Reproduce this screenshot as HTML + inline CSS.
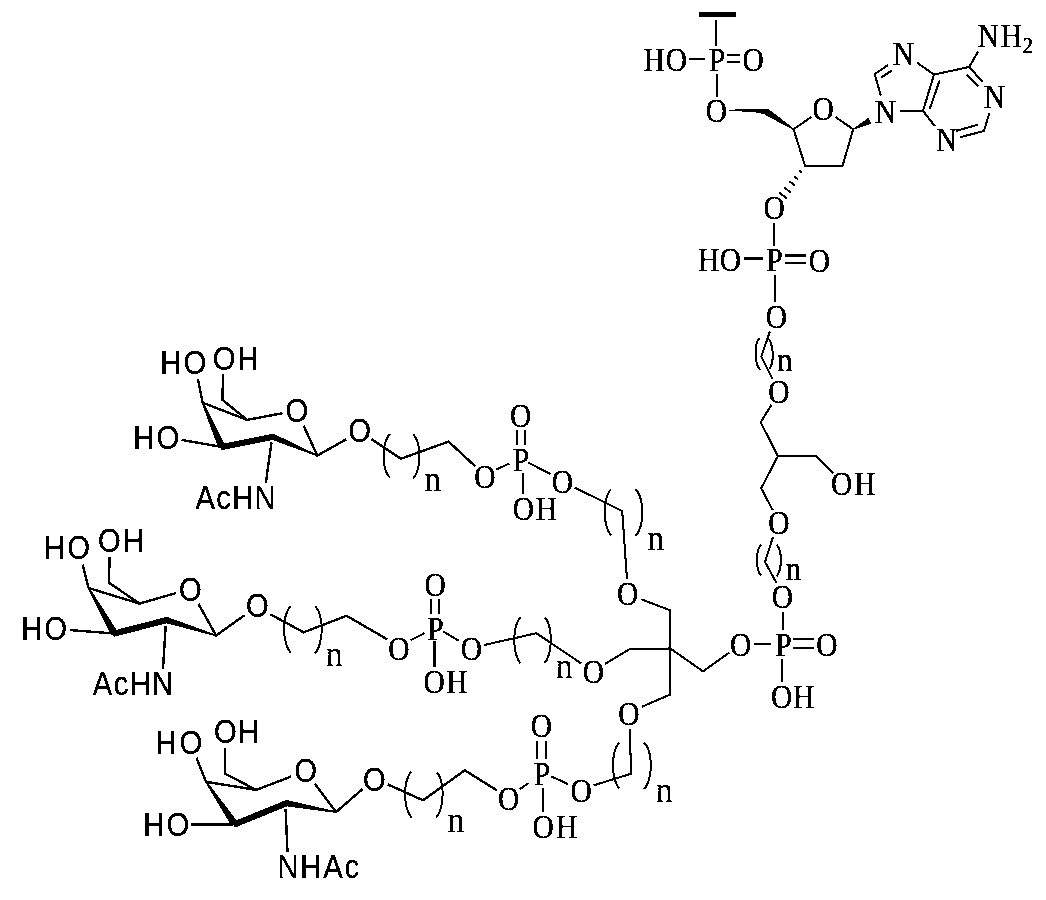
<!DOCTYPE html>
<html><head><meta charset="utf-8"><title>Structure</title>
<style>
html,body{margin:0;padding:0;background:#fff;}
body{width:1046px;height:900px;overflow:hidden;}
svg{display:block;}
path{stroke:#000;fill:none;stroke-linecap:butt;stroke-linejoin:miter;shape-rendering:crispEdges;}
.f{fill:#000;stroke:none;shape-rendering:crispEdges;}
.p{stroke-linejoin:round;}
text{fill:#000;stroke:#000;stroke-linejoin:round;}
.s{font-family:"Liberation Serif",serif;stroke-width:0.3px;}
.a{font-family:"Liberation Sans",sans-serif;stroke-width:0.25px;}
</style></head><body>
<svg width="1046" height="900" viewBox="0 0 1046 900">
<defs><filter id="bi" x="0" y="0" width="1046" height="900" filterUnits="userSpaceOnUse" color-interpolation-filters="sRGB"><feComponentTransfer><feFuncA type="discrete" tableValues="0 1"/></feComponentTransfer></filter></defs>
<path d="M698.8 14.3 L735.7 14.3" stroke-width="4.4"/>
<path d="M716.3 20.0 L716.3 46.0" stroke-width="2.05"/>
<path d="M689.1 58.6 L705.2 58.6" stroke-width="2.05"/>
<path d="M727.0 55.4 L740.2 55.4" stroke-width="2.05"/>
<path d="M727.0 62.4 L740.2 62.4" stroke-width="2.05"/>
<path d="M716.9 74.2 L716.9 97.1" stroke-width="2.05"/>
<polygon class="f" points="729.4,109.6 768.2,109.0 764.9,114.2 752.0,111.6 729.4,111.4"/>
<polygon class="f" points="794.0,128.7 768.4,108.9 764.6,114.7 793.2,129.9"/>
<path d="M793.6 129.3 L811.2 117.0" stroke-width="2.05"/>
<path d="M835.5 117.0 L853.2 129.3" stroke-width="2.05"/>
<path d="M793.6 129.3 L805.2 166.3 L842.4 166.3 L853.2 129.3" stroke-width="2.05"/>
<polygon class="f" points="853.4,129.7 871.5,123.5 868.5,117.7 853.0,128.9"/>
<path d="M799.2 170.7 L801.6 172.5" stroke-width="2.0"/>
<path d="M794.3 176.5 L797.9 179.3" stroke-width="2.0"/>
<path d="M789.4 181.2 L794.8 185.6" stroke-width="2.0"/>
<path d="M784.1 187.2 L790.9 192.8" stroke-width="2.0"/>
<path d="M779.1 192.3 L786.7 198.5" stroke-width="2.0"/>
<path d="M880.8 95.6 L874.7 74.2 L888.0 65.0" stroke-width="2.05"/>
<path d="M881.4 77.4 L891.9 70.4" stroke-width="2.05"/>
<path d="M917.1 62.7 L934.0 74.6" stroke-width="2.05"/>
<path d="M934.0 74.6 L923.0 110.9" stroke-width="2.05"/>
<path d="M939.7 80.3 L929.7 109.0" stroke-width="2.05"/>
<path d="M899.5 110.9 L923.0 110.9 L934.9 126.2" stroke-width="2.05"/>
<path d="M934.0 74.6 L969.3 66.9 L978.0 51.6" stroke-width="2.05"/>
<path d="M969.3 66.9 L982.7 82.2" stroke-width="2.05"/>
<path d="M966.8 75.0 L978.0 86.4" stroke-width="2.05"/>
<path d="M989.4 112.8 L984.0 131.0 L959.8 137.3" stroke-width="2.05"/>
<path d="M978.0 124.7 L956.0 131.0" stroke-width="2.05"/>
<path d="M774.1 223.0 L774.1 246.0" stroke-width="2.05"/>
<path d="M743.5 258.6 L762.6 258.6" stroke-width="2.5"/>
<path d="M784.8 255.6 L805.8 255.6" stroke-width="2.5"/>
<path d="M784.8 263.1 L805.8 263.1" stroke-width="2.5"/>
<path d="M775.2 274.6 L775.2 302.4" stroke-width="2.05"/>
<path d="M769.9 331.5 L761.3 356.4 L772.7 379.3" stroke-width="2.05"/>
<path class="p" d="M759.3 338.2 L758.0 340.0 L757.0 342.4 L756.3 345.1 L755.8 348.1 L755.5 351.2 L755.5 354.5 L755.7 357.7 L756.2 360.8 L756.9 363.6 L757.8 366.1 L758.9 368.2 L760.3 369.8" stroke-width="2.0"/>
<path class="p" d="M768.9 339.2 L770.1 341.2 L771.0 343.6 L771.8 346.3 L772.3 349.2 L772.7 352.2 L772.8 355.3 L772.7 358.3 L772.3 361.1 L771.8 363.6 L771.0 365.8 L770.1 367.6 L768.9 368.8" stroke-width="2.0"/>
<path d="M771.4 404.8 L760.7 422.4 L777.9 456.1" stroke-width="2.05"/>
<path d="M777.9 456.1 L815.7 456.1 L833.0 473.3" stroke-width="2.05"/>
<path d="M777.9 456.1 L761.2 488.3 L772.8 510.3" stroke-width="2.05"/>
<path d="M773.0 537.1 L765.0 561.9 L776.5 583.0" stroke-width="2.05"/>
<path class="p" d="M761.2 544.7 L759.9 546.3 L758.7 548.4 L757.9 551.0 L757.3 553.8 L756.9 556.9 L756.8 560.0 L756.9 563.2 L757.3 566.3 L757.9 569.1 L758.7 571.8 L759.9 574.0 L761.2 575.7" stroke-width="2.0"/>
<path class="p" d="M776.5 544.7 L777.8 546.3 L779.0 548.4 L779.8 550.9 L780.4 553.7 L780.8 556.8 L780.9 560.0 L780.8 563.3 L780.4 566.4 L779.8 569.4 L779.0 572.1 L777.8 574.5 L776.5 576.3" stroke-width="2.0"/>
<path d="M783.0 611.6 L783.0 629.8" stroke-width="2.05"/>
<path d="M753.7 643.6 L770.9 643.6" stroke-width="2.05"/>
<path d="M793.3 639.3 L813.9 639.3" stroke-width="2.05"/>
<path d="M793.3 648.0 L813.9 648.0" stroke-width="2.05"/>
<path d="M782.0 659.4 L782.0 682.4" stroke-width="2.05"/>
<path d="M670.4 648.5 L703.0 671.4 L729.2 652.7" stroke-width="2.05"/>
<path d="M641.3 599.3 L670.4 610.4 L670.4 694.5 L641.8 706.8" stroke-width="2.05"/>
<path d="M670.4 648.5 L629.9 649.0 L605.0 663.9" stroke-width="2.05"/>
<path d="M627.0 579.2 L622.2 511.0 L574.6 487.5" stroke-width="2.05"/>
<path class="p" d="M611.1 489.3 L609.1 491.6 L607.5 494.7 L606.3 498.4 L605.4 502.6 L604.8 507.1 L604.7 511.7 L604.8 516.4 L605.4 521.0 L606.3 525.3 L607.5 529.2 L609.1 532.6 L611.1 535.2" stroke-width="2.0"/>
<path class="p" d="M635.6 489.3 L637.7 491.7 L639.3 494.9 L640.6 498.7 L641.6 503.0 L642.1 507.6 L642.3 512.3 L642.1 517.1 L641.6 521.7 L640.6 526.1 L639.3 530.0 L637.7 533.4 L635.6 536.0" stroke-width="2.0"/>
<path d="M516.9 430.1 L516.9 445.0" stroke-width="2.05"/>
<path d="M525.1 430.1 L525.1 445.0" stroke-width="2.05"/>
<path d="M496.4 469.5 L509.2 463.6" stroke-width="2.05"/>
<path d="M528.3 462.6 L550.5 474.1" stroke-width="2.05"/>
<path d="M522.6 473.3 L522.6 494.3" stroke-width="2.05"/>
<path d="M371.6 439.3 L400.8 458.8 L448.6 441.6 L475.1 466.2" stroke-width="2.4"/>
<path class="p" d="M389.9 434.0 L388.0 436.4 L386.4 439.5 L385.1 443.2 L384.3 447.2 L383.7 451.5 L383.6 456.0 L383.7 460.4 L384.3 464.7 L385.1 468.7 L386.4 472.3 L388.0 475.3 L389.9 477.6" stroke-width="2.0"/>
<path class="p" d="M413.2 434.4 L415.1 436.7 L416.7 439.7 L417.9 443.2 L418.8 447.3 L419.3 451.6 L419.5 456.0 L419.3 460.5 L418.8 464.9 L417.9 469.0 L416.7 472.7 L415.1 475.8 L413.2 478.3" stroke-width="2.0"/>
<path d="M198.0 379.3 L202.6 402.7" stroke-width="2.4"/>
<path d="M202.6 402.7 L247.2 419.9" stroke-width="2.4"/>
<path d="M223.2 374.0 L222.3 399.8 L247.2 419.9 L282.5 413.2" stroke-width="2.4"/>
<path d="M303.6 425.6 L317.3 455.6 L346.3 439.3" stroke-width="2.4"/>
<path d="M181.6 439.9 L222.0 447.0" stroke-width="2.4"/>
<path d="M271.5 442.5 L265.8 483.1" stroke-width="2.4"/>
<polygon class="f" points="201.7,403.1 218.5,448.5 225.5,445.5 203.5,402.3"/>
<polygon class="f" points="221.1,450.3 274.9,439.5 273.7,433.5 219.9,444.3"/>
<polygon class="f" points="317.6,454.9 274.0,433.9 271.6,439.7 317.0,456.3"/>
<path d="M270.2 614.2 L303.6 632.3 L346.6 615.8 L387.2 639.3" stroke-width="2.4"/>
<path class="p" d="M290.8 606.3 L288.7 608.6 L287.1 611.7 L285.8 615.4 L284.8 619.6 L284.3 624.1 L284.1 628.9 L284.3 633.6 L284.8 638.2 L285.8 642.6 L287.1 646.6 L288.7 650.0 L290.8 652.7" stroke-width="2.0"/>
<path class="p" d="M315.1 606.3 L317.1 608.6 L318.7 611.6 L320.0 615.3 L320.9 619.5 L321.5 624.1 L321.6 628.9 L321.5 633.7 L320.9 638.4 L320.0 642.9 L318.7 647.0 L317.1 650.5 L315.1 653.3" stroke-width="2.0"/>
<path d="M431.2 599.3 L431.2 614.1" stroke-width="2.05"/>
<path d="M439.3 599.3 L439.3 614.1" stroke-width="2.05"/>
<path d="M410.6 640.2 L424.4 633.2" stroke-width="2.05"/>
<path d="M443.1 631.3 L458.8 640.8" stroke-width="2.05"/>
<path d="M434.5 641.4 L434.5 667.0" stroke-width="2.05"/>
<path d="M484.2 645.0 L536.4 633.2 L581.0 663.3" stroke-width="2.05"/>
<path class="p" d="M520.5 617.3 L518.6 619.7 L517.1 622.8 L515.9 626.6 L515.0 630.7 L514.5 635.3 L514.3 639.9 L514.5 644.6 L515.0 649.2 L515.9 653.5 L517.1 657.3 L518.6 660.6 L520.5 663.2" stroke-width="2.0"/>
<path class="p" d="M544.8 617.3 L546.6 619.6 L548.1 622.7 L549.3 626.4 L550.1 630.5 L550.6 635.0 L550.8 639.6 L550.6 644.3 L550.1 648.8 L549.3 653.1 L548.1 656.9 L546.6 660.2 L544.8 662.8" stroke-width="2.0"/>
<path d="M82.6 564.5 L88.5 588.0" stroke-width="2.4"/>
<path d="M88.5 588.0 L139.5 603.6" stroke-width="2.4"/>
<path d="M109.4 556.8 L109.2 582.9 L139.5 603.6 L176.2 593.0" stroke-width="2.4"/>
<path d="M198.5 604.0 L216.1 635.5 L244.8 615.1" stroke-width="2.4"/>
<path d="M69.8 630.1 L114.4 633.5" stroke-width="2.4"/>
<path d="M165.7 625.8 L163.0 669.0" stroke-width="2.4"/>
<polygon class="f" points="87.6,588.5 111.1,635.4 117.7,631.6 89.4,587.5"/>
<polygon class="f" points="113.7,636.9 168.9,622.7 167.4,616.7 112.2,630.9"/>
<polygon class="f" points="216.3,634.7 167.6,617.1 165.8,623.1 215.9,636.3"/>
<path d="M387.7 784.4 L423.0 800.3 L464.8 770.3 L496.9 790.4" stroke-width="2.4"/>
<path class="p" d="M411.6 771.6 L409.6 773.9 L408.0 777.0 L406.7 780.7 L405.8 784.9 L405.2 789.4 L405.1 794.0 L405.2 798.7 L405.8 803.3 L406.7 807.6 L408.0 811.5 L409.6 814.9 L411.6 817.5" stroke-width="2.0"/>
<path class="p" d="M436.8 772.3 L438.6 774.6 L440.1 777.7 L441.3 781.4 L442.0 785.5 L442.5 790.0 L442.6 794.6 L442.3 799.3 L441.7 803.8 L440.8 808.1 L439.5 811.9 L437.9 815.2 L436.0 817.8" stroke-width="2.0"/>
<path d="M537.1 741.2 L537.1 758.8" stroke-width="2.05"/>
<path d="M545.7 741.2 L545.7 758.8" stroke-width="2.05"/>
<path d="M519.5 789.4 L528.5 783.1" stroke-width="2.05"/>
<path d="M551.4 776.4 L568.0 784.1" stroke-width="2.05"/>
<path d="M542.8 787.9 L542.8 812.4" stroke-width="2.05"/>
<path d="M593.5 785.4 L631.1 773.7 L629.8 729.3" stroke-width="2.05"/>
<path class="p" d="M619.3 742.7 L617.4 745.0 L615.8 748.1 L614.6 751.7 L613.7 755.9 L613.2 760.4 L613.0 765.1 L613.2 769.7 L613.7 774.3 L614.6 778.7 L615.8 782.6 L617.4 785.9 L619.3 788.6" stroke-width="2.0"/>
<path class="p" d="M644.1 742.7 L646.2 745.0 L647.8 748.1 L649.1 751.8 L650.1 755.9 L650.6 760.5 L650.8 765.2 L650.6 769.9 L650.1 774.5 L649.1 778.9 L647.8 782.9 L646.2 786.3 L644.1 789.0" stroke-width="2.0"/>
<path d="M196.5 757.7 L206.1 781.8" stroke-width="2.4"/>
<path d="M206.1 781.8 L256.2 789.9" stroke-width="2.4"/>
<path d="M225.0 747.8 L225.0 773.6 L256.2 789.9 L291.0 776.6" stroke-width="2.4"/>
<path d="M314.7 783.7 L336.0 812.1 L362.4 789.2" stroke-width="2.4"/>
<path d="M191.2 824.7 L234.8 824.3" stroke-width="2.4"/>
<path d="M285.6 809.2 L287.5 852.2" stroke-width="2.4"/>
<polygon class="f" points="205.3,782.4 231.7,826.4 237.9,822.2 206.9,781.2"/>
<polygon class="f" points="234.6,827.7 289.1,805.5 286.7,799.8 232.2,822.0"/>
<polygon class="f" points="336.1,811.3 287.0,800.1 286.0,806.3 335.9,812.9"/>
<g filter="url(#bi)">
<text class="s" font-size="29.5" x="643.50 665.86" y="0" transform="translate(0 70.82) scale(1 1.12)">HO</text>
<text class="s" font-size="29.5" x="708.86" y="0" transform="translate(0 70.82) scale(1 1.12)">P</text>
<text class="s" font-size="29.5" x="742.45" y="0" transform="translate(0 70.82) scale(1 1.12)">O</text>
<text class="s" font-size="29.5" x="705.75" y="0" transform="translate(0 122.32) scale(1 1.12)">O</text>
<text class="s" font-size="29.5" x="812.55" y="0" transform="translate(0 120.22) scale(1 1.12)">O</text>
<text class="s" font-size="29.5" x="763.55" y="0" transform="translate(0 218.82) scale(1 1.12)">O</text>
<text class="s" font-size="29.5" x="874.66" y="0" transform="translate(0 123.02) scale(1 1.12)">N</text>
<text class="s" font-size="29.5" x="892.66" y="0" transform="translate(0 64.52) scale(1 1.12)">N</text>
<text class="s" font-size="29.5" x="983.66" y="0" transform="translate(0 107.52) scale(1 1.12)">N</text>
<text class="s" font-size="29.5" x="936.06" y="0" transform="translate(0 151.32) scale(1 1.12)">N</text>
<text class="s" font-size="29.5" x="977.50 1000.71" y="0" transform="translate(0 47.12) scale(1 1.12)">NH<tspan font-size="21" x="1022.57" dy="5.52">2</tspan></text>
<text class="s" font-size="29.5" x="698.00 719.76" y="0" transform="translate(0 271.12) scale(1 1.12)">HO</text>
<text class="s" font-size="29.5" x="766.16" y="0" transform="translate(0 271.42) scale(1 1.12)">P</text>
<text class="s" font-size="29.5" x="808.85" y="0" transform="translate(0 271.62) scale(1 1.12)">O</text>
<text class="s" font-size="29.5" x="765.65" y="0" transform="translate(0 328.22) scale(1 1.12)">O</text>
<text class="s" font-size="30.5" x="777.15" y="0" style="stroke-width:0.5px" transform="translate(0 371.20) scale(1 1.09)">n</text>
<text class="s" font-size="29.5" x="768.35" y="0" transform="translate(0 402.62) scale(1 1.12)">O</text>
<text class="s" font-size="29.5" x="831.04 854.21" y="0" transform="translate(0 495.32) scale(1 1.12)">OH</text>
<text class="s" font-size="29.5" x="768.35" y="0" transform="translate(0 534.32) scale(1 1.12)">O</text>
<text class="s" font-size="30.5" x="785.65" y="0" style="stroke-width:0.5px" transform="translate(0 579.90) scale(1 1.09)">n</text>
<text class="s" font-size="29.5" x="771.75" y="0" transform="translate(0 607.52) scale(1 1.12)">O</text>
<text class="s" font-size="29.5" x="775.26" y="0" transform="translate(0 655.92) scale(1 1.12)">P</text>
<text class="s" font-size="29.5" x="730.05" y="0" transform="translate(0 656.32) scale(1 1.12)">O</text>
<text class="s" font-size="29.5" x="816.25" y="0" transform="translate(0 656.32) scale(1 1.12)">O</text>
<text class="s" font-size="29.5" x="771.04 793.11" y="0" transform="translate(0 708.22) scale(1 1.12)">OH</text>
<text class="s" font-size="29.5" x="616.95" y="0" transform="translate(0 605.32) scale(1 1.12)">O</text>
<text class="s" font-size="29.5" x="582.65" y="0" transform="translate(0 683.12) scale(1 1.12)">O</text>
<text class="s" font-size="29.5" x="618.15" y="0" transform="translate(0 725.02) scale(1 1.12)">O</text>
<text class="s" font-size="33.5" x="647.18" y="0" style="stroke-width:0.2px" transform="translate(0 549.80) scale(1 1.04)">n</text>
<text class="s" font-size="29.5" x="510.05" y="0" transform="translate(0 426.62) scale(1 1.12)">O</text>
<text class="s" font-size="29.5" x="512.86" y="0" transform="translate(0 470.82) scale(1 1.12)">P</text>
<text class="s" font-size="29.5" x="474.35" y="0" transform="translate(0 487.82) scale(1 1.12)">O</text>
<text class="s" font-size="29.5" x="551.75" y="0" transform="translate(0 493.02) scale(1 1.12)">O</text>
<text class="s" font-size="29.5" x="512.74 535.81" y="0" transform="translate(0 519.72) scale(1 1.12)">OH</text>
<text class="s" font-size="33.5" x="424.28" y="0" style="stroke-width:0.2px" transform="translate(0 491.20) scale(1 1.04)">n</text>
<text class="a" font-size="29.3" x="285.61" y="0" transform="translate(0 422.39) scale(1 1.11)">O</text>
<text class="a" font-size="29.3" x="348.31" y="0" transform="translate(0 442.29) scale(1 1.11)">O</text>
<text class="a" font-size="29.3" x="160.32 183.39" y="0" transform="translate(0 374.39) scale(1 1.11)">HO</text>
<text class="a" font-size="29.3" x="212.64 237.60" y="0" transform="translate(0 369.69) scale(1 1.11)">OH</text>
<text class="a" font-size="29.3" x="133.22 156.59" y="0" transform="translate(0 449.19) scale(1 1.11)">HO</text>
<text class="a" font-size="29.3" x="195.57 216.34 232.22 254.60" y="0" transform="translate(0 508.69) scale(1 1.11)">AcHN</text>
<text class="s" font-size="33.5" x="326.08" y="0" style="stroke-width:0.2px" transform="translate(0 666.00) scale(1 1.04)">n</text>
<text class="s" font-size="29.5" x="424.45" y="0" transform="translate(0 596.02) scale(1 1.12)">O</text>
<text class="s" font-size="29.5" x="427.16" y="0" transform="translate(0 639.52) scale(1 1.12)">P</text>
<text class="s" font-size="29.5" x="388.25" y="0" transform="translate(0 660.22) scale(1 1.12)">O</text>
<text class="s" font-size="29.5" x="460.75" y="0" transform="translate(0 660.22) scale(1 1.12)">O</text>
<text class="s" font-size="29.5" x="423.54 446.21" y="0" transform="translate(0 693.42) scale(1 1.12)">OH</text>
<text class="s" font-size="33.5" x="556.08" y="0" style="stroke-width:0.2px" transform="translate(0 677.50) scale(1 1.04)">n</text>
<text class="a" font-size="29.3" x="179.11" y="0" transform="translate(0 601.39) scale(1 1.11)">O</text>
<text class="a" font-size="29.3" x="245.91" y="0" transform="translate(0 617.39) scale(1 1.11)">O</text>
<text class="a" font-size="29.3" x="43.82 67.19" y="0" transform="translate(0 559.39) scale(1 1.11)">HO</text>
<text class="a" font-size="29.3" x="97.94 122.80" y="0" transform="translate(0 551.59) scale(1 1.11)">OH</text>
<text class="a" font-size="29.3" x="21.22 44.29" y="0" transform="translate(0 639.89) scale(1 1.11)">HO</text>
<text class="a" font-size="29.3" x="92.67 113.64 129.72 152.30" y="0" transform="translate(0 694.79) scale(1 1.11)">AcHN</text>
<text class="s" font-size="33.5" x="447.68" y="0" style="stroke-width:0.2px" transform="translate(0 832.30) scale(1 1.04)">n</text>
<text class="s" font-size="29.5" x="530.65" y="0" transform="translate(0 737.32) scale(1 1.12)">O</text>
<text class="s" font-size="29.5" x="533.86" y="0" transform="translate(0 785.42) scale(1 1.12)">P</text>
<text class="s" font-size="29.5" x="497.95" y="0" transform="translate(0 810.22) scale(1 1.12)">O</text>
<text class="s" font-size="29.5" x="570.45" y="0" transform="translate(0 802.12) scale(1 1.12)">O</text>
<text class="s" font-size="29.5" x="532.44 556.01" y="0" transform="translate(0 837.52) scale(1 1.12)">OH</text>
<text class="s" font-size="33.5" x="656.08" y="0" style="stroke-width:0.2px" transform="translate(0 802.20) scale(1 1.04)">n</text>
<text class="a" font-size="29.3" x="294.21" y="0" transform="translate(0 781.99) scale(1 1.11)">O</text>
<text class="a" font-size="29.3" x="363.11" y="0" transform="translate(0 790.59) scale(1 1.11)">O</text>
<text class="a" font-size="29.3" x="155.62 179.39" y="0" transform="translate(0 754.19) scale(1 1.11)">HO</text>
<text class="a" font-size="29.3" x="214.04 238.10" y="0" transform="translate(0 743.29) scale(1 1.11)">OH</text>
<text class="a" font-size="29.3" x="143.22 166.59" y="0" transform="translate(0 836.39) scale(1 1.11)">HO</text>
<text class="a" font-size="29.3" x="277.52 300.35 323.18 344.40" y="0" transform="translate(0 878.49) scale(1 1.11)">NHAc</text>
</g>
</svg>
</body></html>
